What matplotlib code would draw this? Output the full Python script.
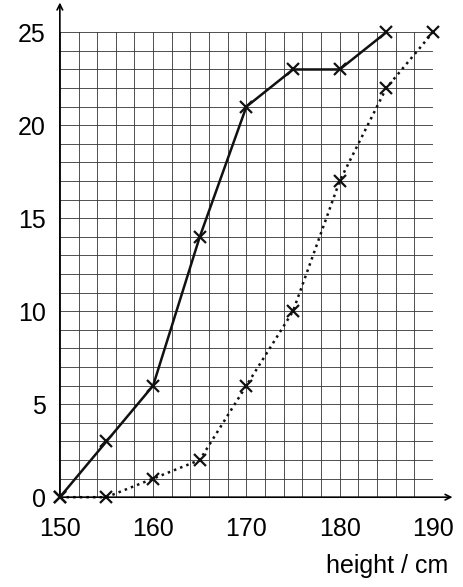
import matplotlib
matplotlib.use("Agg")
import matplotlib.pyplot as plt
import numpy as np

heights_a = [150, 155, 160, 165, 170, 175, 180, 185]
counts_a = [0, 3, 6, 14, 21, 23, 23, 25]
heights_b = [150, 155, 160, 165, 170, 175, 180, 185, 190]
counts_b = [0, 0, 1, 2, 6, 10, 17, 22, 25]
xticks = [150, 160, 170, 180, 190]
yticks = [0, 5, 10, 15, 20, 25]

plt.rcParams['font.family'] = ['Liberation Sans', 'DejaVu Sans']
fig = plt.figure(figsize=(4.64, 5.87), dpi=100)
ax = fig.add_axes([0.129, 0.153, 0.804, 0.792])
ax.set_xlim(150, 190)
ax.set_ylim(0, 25)
for x in np.arange(150, 190.1, 2):
    ax.axvline(x, color='#333333', lw=0.6, zorder=1)
for y in np.arange(0, 25.1, 1):
    ax.axhline(y, color='#333333', lw=0.6, zorder=1)
ax.plot(heights_a, counts_a, color='#111111', lw=1.8, marker='x', ms=9, mew=1.6, zorder=3, clip_on=False)
ax.plot(heights_b, counts_b, color='#111111', lw=1.8, ls=':', marker='x', ms=9, mew=1.6, zorder=3, clip_on=False)
for s in ax.spines.values():
    s.set_visible(False)
ax.set_xticks(xticks)
ax.set_yticks(yticks)
ax.tick_params(axis='y', labelsize=18, length=0, pad=10)
ax.tick_params(axis='x', labelsize=18, length=0, pad=14)
ax.annotate('', xy=(0, 1.07), xytext=(0, 0), xycoords='axes fraction',
            arrowprops=dict(arrowstyle='->', lw=1.2, color='black'))
ax.annotate('', xy=(1.06, 0), xytext=(0, 0), xycoords='axes fraction',
            arrowprops=dict(arrowstyle='->', lw=1.2, color='black'))
fig.text(0.965, 0.015, 'height / cm', ha='right', va='bottom', fontsize=18)
fig.savefig('out.png', dpi=100)
